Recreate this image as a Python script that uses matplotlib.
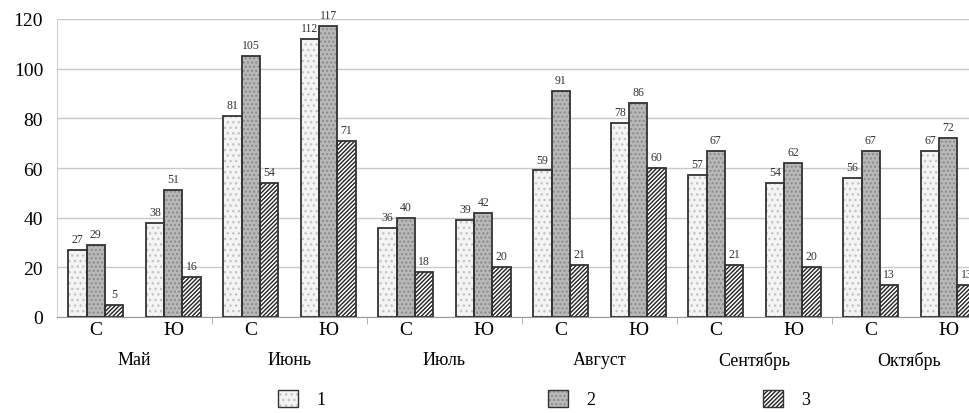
import numpy as np
import matplotlib.pyplot as plt
from matplotlib.patches import Patch

plt.rcParams['font.family'] = ['Liberation Serif', 'DejaVu Serif']
plt.rcParams['hatch.linewidth'] = 1.0

months = ['Май', 'Июнь', 'Июль', 'Август', 'Сентябрь', 'Октябрь']
sides = ['С', 'Ю']
s1 = [27, 38, 81, 112, 36, 39, 59, 78, 57, 54, 56, 67]
s2 = [29, 51, 105, 117, 40, 42, 91, 86, 67, 62, 67, 72]
s3 = [5, 16, 54, 71, 18, 20, 21, 60, 21, 20, 13, 13]
legend_labels = ['1', '2', '3']

fig = plt.figure(figsize=(9.7, 4.14), dpi=100)
# axes runs past right edge like in the original picture
ax = fig.add_axes([57 / 970, 96 / 414, 930 / 970, 298 / 414])

x = np.arange(len(s1))
w = 0.236
# face colour, hatch, hatch colour
styles = [
    ('#f4f4f4', '...', '#c4c4c4'),
    ('#b8b8b8', '....', '#8a8a8a'),
    ('#ffffff', '////////', '#222222'),
]
for i, vals in enumerate([s1, s2, s3]):
    pos = x + (i - 1) * w
    fc, h, hc = styles[i]
    # hatch layer, then the outline on top
    ax.bar(pos, vals, w, facecolor=fc, edgecolor=hc, hatch=h, linewidth=0, zorder=3)
    bars = ax.bar(pos, vals, w, facecolor='none', edgecolor='#333333', linewidth=1.3, zorder=4)
    for b, v in zip(bars, vals):
        ax.text(b.get_x() + b.get_width() / 2, v + 2, str(v), ha='center', va='bottom',
                fontsize=8.5, color='#333333', zorder=5)

ax.set_xlim(-0.5, 11.5)
ax.set_ylim(0, 120)
ax.set_yticks(range(0, 121, 20))
ax.tick_params(axis='y', length=0, labelsize=14, pad=10)
ax.grid(axis='y', color='#c8c8c8', linewidth=1, zorder=0)

ax.set_xticks(x)
ax.set_xticklabels(sides * 6, fontsize=14)
ax.set_xticks(np.arange(1.5, 11, 2), minor=True)
ax.tick_params(axis='x', which='major', length=0, pad=3)
ax.tick_params(axis='x', which='minor', length=5, color='#aaaaaa')

for k, m in enumerate(months):
    ax.text(2 * k + 0.5, -0.115, m, transform=ax.get_xaxis_transform(),
            ha='center', va='top', fontsize=13)

for s in ['top', 'right']:
    ax.spines[s].set_visible(False)
ax.spines['left'].set_color('#d0d0d0')
ax.spines['bottom'].set_color('#999999')

# legend entries placed one by one (uneven spacing in the original)
leg_x = [288, 558, 773]
for i in range(3):
    fc, h, hc = styles[i]
    fill = Patch(facecolor=fc, edgecolor=hc, hatch=h, linewidth=0)
    edge = Patch(facecolor='none', edgecolor='#333333', linewidth=1)
    fig.legend([(fill, edge)], [legend_labels[i]], loc='center left', frameon=False,
               bbox_to_anchor=((leg_x[i] - 26) / 970, 14 / 414), fontsize=13,
               handlelength=1.1, handleheight=1.1, handletextpad=1.0)

fig.savefig('out.png', dpi=100)
